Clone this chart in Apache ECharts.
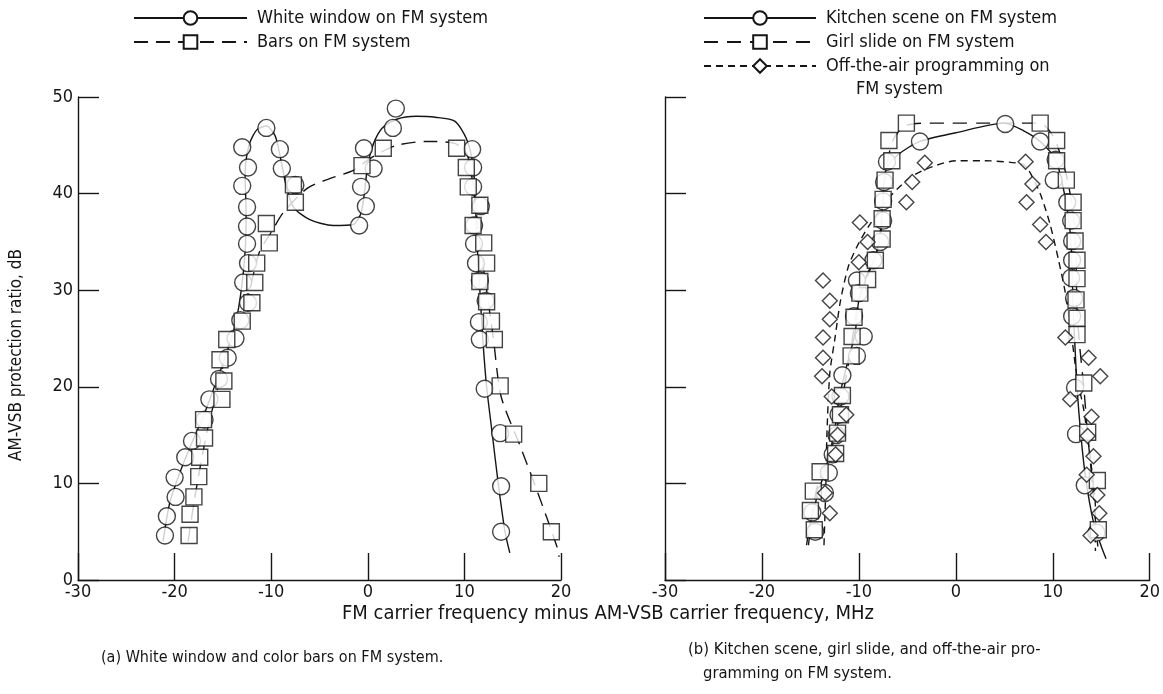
<!DOCTYPE html>
<html><head><meta charset="utf-8">
<script src="https://cdn.jsdelivr.net/npm/echarts@6/dist/echarts.min.js"></script>
<style>html,body{margin:0;padding:0;background:#fff}#c{width:1163px;height:694px}</style>
</head><body><div id="c"></div><script>
// ---- data (x: MHz, y: dB) ----
const xTicks = [-30, -20, -10, 0, 10, 20];
const yTicks = [0, 10, 20, 30, 40, 50];

const whiteWindowPts = [[-21.0,4.6],[-20.8,6.6],[-19.9,8.6],[-20.0,10.6],[-18.9,12.7],[-18.2,14.4],[-16.9,16.6],[-16.4,18.7],[-15.4,20.8],[-14.5,23.0],[-13.7,25.0],[-13.2,26.9],[-12.4,28.7],[-12.9,30.8],[-12.4,32.8],[-12.5,34.8],[-12.5,36.6],[-12.5,38.6],[-13.0,40.8],[-12.4,42.7],[-13.0,44.8],[-10.5,46.8],[-9.1,44.6],[-8.9,42.6],[-7.5,40.9],[-0.9,36.7],[-0.2,38.7],[-0.7,40.7],[0.6,42.6],[-0.4,44.7],[2.6,46.8],[2.9,48.8],[10.8,44.6],[10.9,42.7],[10.9,40.7],[11.7,38.7],[11.0,36.7],[11.0,34.8],[11.2,32.8],[11.6,31.0],[12.2,28.9],[11.5,26.7],[11.6,24.9],[12.1,19.8],[13.7,15.2],[13.8,9.7],[13.8,5.0]];
const whiteWindowCurve = [[-21.2,4],[-20.5,8],[-19.5,11],[-18.3,14],[-17,17],[-15.7,20.5],[-14.6,23.5],[-13.7,26.5],[-13.1,30],[-12.7,34],[-12.6,38],[-12.7,42],[-12.3,45],[-11.5,46.6],[-10.5,47],[-9.6,46],[-9,43.5],[-8.5,41],[-7.7,38.6],[-6,37.3],[-3.6,36.7],[-1.5,36.8],[-0.7,38],[-0.3,40.5],[0,43],[0.6,45.2],[1.5,46.8],[3,47.7],[5,48],[7,47.9],[9,47.5],[10.2,45.7],[10.9,43],[11.1,40],[11.3,35],[11.6,30],[11.9,25],[12.3,20],[12.9,15],[13.5,10],[14.2,5],[14.7,2.8]];

const barsPts = [[-18.5,4.6],[-18.4,6.8],[-18.0,8.6],[-17.5,10.7],[-17.4,12.7],[-16.9,14.7],[-17.0,16.6],[-15.1,18.7],[-14.9,20.6],[-15.3,22.8],[-14.6,24.9],[-13.0,26.8],[-12.0,28.7],[-11.7,30.8],[-11.5,32.8],[-10.2,34.9],[-10.5,36.9],[-7.5,39.1],[-7.7,40.9],[-0.6,42.9],[1.6,44.7],[9.2,44.7],[10.2,42.7],[10.4,40.7],[11.6,38.8],[10.9,36.7],[12.0,34.9],[12.3,32.8],[11.6,30.9],[12.3,28.8],[12.8,26.8],[13.1,24.9],[13.7,20.1],[15.1,15.1],[17.7,10.0],[19.0,5.0]];
const barsCurve = [[-18.6,4],[-18,8],[-17.3,12],[-16.5,16],[-15.5,20],[-14.5,24],[-13.2,27],[-12,31],[-11.2,34],[-10,36],[-8.7,38.1],[-6.2,40.6],[-3.5,41.7],[-1.5,42.4],[0.5,43.8],[3,45],[6,45.4],[9,45.2],[10.3,44],[11,40],[11.6,35],[12.3,30],[13,25],[13.8,19],[15.8,13.8],[17.5,9.3],[19.6,3.4],[19.8,2.4]];

const kitchenPts = [[-7.1,43.3],[-7.4,41.2],[-7.5,39.2],[-7.5,37.2],[-7.8,35.0],[-8.5,33.1],[-10.2,31.0],[-10.0,29.7],[-10.5,27.3],[-9.5,25.2],[-10.2,23.2],[-11.7,21.2],[-11.9,19.0],[-12.1,17.1],[-12.3,15.0],[-12.7,13.0],[-13.1,11.1],[-13.5,9.0],[-14.8,7.0],[-14.5,5.0],[-3.7,45.4],[5.1,47.2],[8.7,45.4],[10.3,43.5],[10.1,41.4],[11.5,39.1],[11.9,37.2],[12.0,35.1],[12.0,33.1],[11.9,31.3],[12.2,29.2],[12.0,27.3],[12.3,19.9],[12.4,15.1],[13.3,9.8],[14.5,4.9]];
const kitchenCurve = [[-15.4,3.6],[-15,6],[-14.2,9],[-13.3,12],[-12.5,15.5],[-12,19],[-11.3,22],[-10.4,25.5],[-10,29],[-9.2,31.5],[-8.3,33.5],[-7.8,36],[-7.5,39.5],[-7.2,42.5],[-6,44],[-3.7,45.4],[0,46.3],[5,47.3],[7,46.5],[8.7,45.4],[10.3,43.5],[11.2,40],[11.8,36],[12.0,32],[12.1,28],[12.3,24],[12.5,20],[12.9,15],[13.4,10.5],[14.2,6],[15,3.5],[15.5,2.2]];

const girlPts = [[-5.1,47.3],[8.7,47.3],[-6.9,45.5],[-6.6,43.4],[-7.3,41.4],[-7.5,39.4],[-7.6,37.4],[-7.6,35.3],[-8.3,33.1],[-9.1,31.1],[-9.9,29.7],[-10.5,27.2],[-10.7,25.2],[-10.8,23.2],[-11.7,19.1],[-11.9,17.1],[-12.2,15.2],[-12.4,13.1],[-14.0,11.2],[-14.7,9.2],[-15.0,7.2],[-14.6,5.2],[10.4,45.5],[10.4,43.4],[11.4,41.4],[12.1,39.1],[12.1,37.2],[12.3,35.1],[12.5,33.1],[12.5,31.2],[12.4,29.0],[12.5,27.1],[12.5,25.4],[13.2,20.4],[13.6,15.3],[14.6,10.3],[14.7,5.2]];
const girlCurve = [[-15.2,3.6],[-14.8,7],[-14.2,10],[-13,13],[-12.2,16],[-11.5,20],[-10.8,24],[-10.2,28],[-9.3,31],[-8.3,33.5],[-7.7,36],[-7.5,40],[-7.1,43],[-6.5,45.5],[-5.3,47],[-3,47.3],[5,47.3],[8.7,47.3],[10,46],[10.8,44],[11.5,41.5],[12.1,38],[12.4,33],[12.5,28],[12.8,24],[13.2,20],[13.6,15],[14.1,10],[14.5,5],[14.7,3]];

const offAirPts = [[-3.2,43.2],[7.2,43.3],[-4.5,41.2],[7.9,41.0],[-5.1,39.1],[7.3,39.1],[-9.9,37.0],[8.7,36.8],[-9.1,35.0],[9.3,35.0],[-10.0,32.9],[-13.7,31.0],[-13.0,28.9],[-13.0,27.0],[-13.7,25.1],[-13.7,23.0],[-13.8,21.1],[-12.8,19.0],[-11.3,17.1],[-12.2,15.0],[-12.4,13.0],[-13.5,9.0],[-13.0,6.9],[11.3,25.1],[13.7,23.0],[14.9,21.1],[11.8,18.7],[14.0,16.9],[13.6,14.9],[14.2,12.8],[13.5,10.9],[14.6,8.8],[14.8,6.9],[13.9,4.6]];
const offAirCurve = [[-13.6,3.6],[-13.4,10],[-13.3,15],[-13.0,21.4],[-12.5,24.8],[-11.9,28.9],[-11.1,32.4],[-10.2,34.5],[-9.0,36.6],[-6.6,39.9],[-4.5,41.8],[-2.4,42.8],[0,43.4],[3,43.4],[6.7,43.1],[7.4,42.6],[8.7,40],[9.7,36.9],[10.6,33.1],[11.3,29.7],[12,24.8],[12.5,21],[13.2,17.6],[13.9,12.4],[14.4,7.5],[14.4,3]];

const seriesNames = ['White window on FM system', 'Bars on FM system', 'Kitchen scene on FM system', 'Girl slide on FM system', 'Off-the-air programming on FM system'];
const offAirLegendLines = ['Off-the-air programming on', 'FM system'];
const xTitle = 'FM carrier frequency minus AM-VSB carrier frequency, MHz';
const yTitle = 'AM-VSB protection ratio, dB';
const captionA = '(a) White window and color bars on FM system.';
const captionB = ['(b) Kitchen scene, girl slide, and off-the-air pro-', 'gramming on FM system.'];

// ---- styling ----
const INK = '#151515';
const FONT = "'Liberation Sans Narrow', 'DejaVu Sans Condensed', 'Liberation Sans', sans-serif";
const markStyle = { color: '#fff', borderColor: INK, borderWidth: 1.4 };

function axisPair(gi, showYLabels) {
  const x = {
    type: 'value', gridIndex: gi, min: xTicks[0], max: xTicks[xTicks.length - 1], interval: 10,
    axisLine: { show: true, onZero: false, lineStyle: { color: INK, width: 1.4 } },
    axisTick: { show: true, inside: true, length: 27, lineStyle: { color: INK, width: 1.4 } },
    axisLabel: { color: INK, fontFamily: FONT, fontSize: 18, margin: 3 },
    splitLine: { show: false }
  };
  const y = {
    type: 'value', gridIndex: gi, min: yTicks[0], max: yTicks[yTicks.length - 1], interval: 10,
    axisLine: { show: true, onZero: false, lineStyle: { color: INK, width: 1.4 } },
    axisTick: { show: true, inside: true, length: 21, lineStyle: { color: INK, width: 1.4 } },
    axisLabel: { show: showYLabels, color: INK, fontFamily: FONT, fontSize: 18, margin: 5 },
    splitLine: { show: false }
  };
  return [x, y];
}
const [x0, y0] = axisPair(0, true);
const [x1, y1] = axisPair(1, false);

function curve(name, data, gi, dash, symbol) {
  return {
    name, type: 'line', xAxisIndex: gi, yAxisIndex: gi, data,
    smooth: 0.25, showSymbol: false, symbol, symbolSize: 12,
    itemStyle: markStyle, z: 2, silent: true,
    lineStyle: { color: INK, width: 1.4, type: dash }
  };
}
function marks(name, data, gi, symbol, size) {
  return {
    name, type: 'scatter', xAxisIndex: gi, yAxisIndex: gi, data,
    symbol, symbolSize: size, itemStyle: markStyle, z: 5
  };
}
const legendText = { color: INK, fontFamily: FONT, fontSize: 18, padding: [0, 0, 0, 5] };

const option = {
  backgroundColor: '#fff',
  animation: false,
  grid: [
    { left: 78, top: 97, width: 483, height: 483 },
    { left: 665, top: 97, width: 485, height: 483 }
  ],
  xAxis: [x0, x1],
  yAxis: [y0, y1],
  legend: [
    {
      data: [seriesNames[0], seriesNames[1]],
      orient: 'vertical', left: 133, top: 9, padding: 0, itemWidth: 113, itemHeight: 17, itemGap: 6,
      textStyle: legendText, selectedMode: false
    },
    {
      data: [seriesNames[2], seriesNames[3], seriesNames[4]],
      orient: 'vertical', left: 703, top: 9, padding: 0, itemWidth: 112, itemHeight: 17, itemGap: 6,
      textStyle: legendText, selectedMode: false,
      formatter: n => n === seriesNames[4] ? offAirLegendLines[0] : n
    }
  ],
  graphic: [
    { type: 'text', left: 856, top: 80, style: { text: offAirLegendLines[1], fill: INK, font: "18px " + FONT } },
    { type: 'text', x: 17, y: 355, rotation: Math.PI / 2,
      style: { text: yTitle, fill: INK, font: "17px " + FONT, align: 'center', verticalAlign: 'middle' } },
    { type: 'text', x: 608, y: 614,
      style: { text: xTitle, fill: INK, font: "20px " + FONT, align: 'center', verticalAlign: 'middle' } },
    { type: 'text', left: 101, top: 650, style: { text: captionA, fill: INK, font: "16px " + FONT } },
    { type: 'text', left: 688, top: 641, style: { text: captionB[0], fill: INK, font: "16.5px " + FONT } },
    { type: 'text', left: 703, top: 665, style: { text: captionB[1], fill: INK, font: "16.5px " + FONT } }
  ],
  series: [
    curve(seriesNames[0], whiteWindowCurve, 0, 'solid', 'circle'),
    marks(seriesNames[0], whiteWindowPts, 0, 'circle', 17),
    curve(seriesNames[1], barsCurve, 0, [14, 8], 'rect'),
    marks(seriesNames[1], barsPts, 0, 'rect', 16),
    curve(seriesNames[2], kitchenCurve, 1, 'solid', 'circle'),
    marks(seriesNames[2], kitchenPts, 1, 'circle', 17),
    curve(seriesNames[3], girlCurve, 1, [14, 9], 'rect'),
    marks(seriesNames[3], girlPts, 1, 'rect', 16),
    curve(seriesNames[4], offAirCurve, 1, [7, 5], 'diamond'),
    marks(seriesNames[4], offAirPts, 1, 'diamond', 15)
  ]
};
const chart = echarts.init(document.getElementById('c'), null, { renderer: 'canvas' });
chart.setOption(option);
</script></body></html>
